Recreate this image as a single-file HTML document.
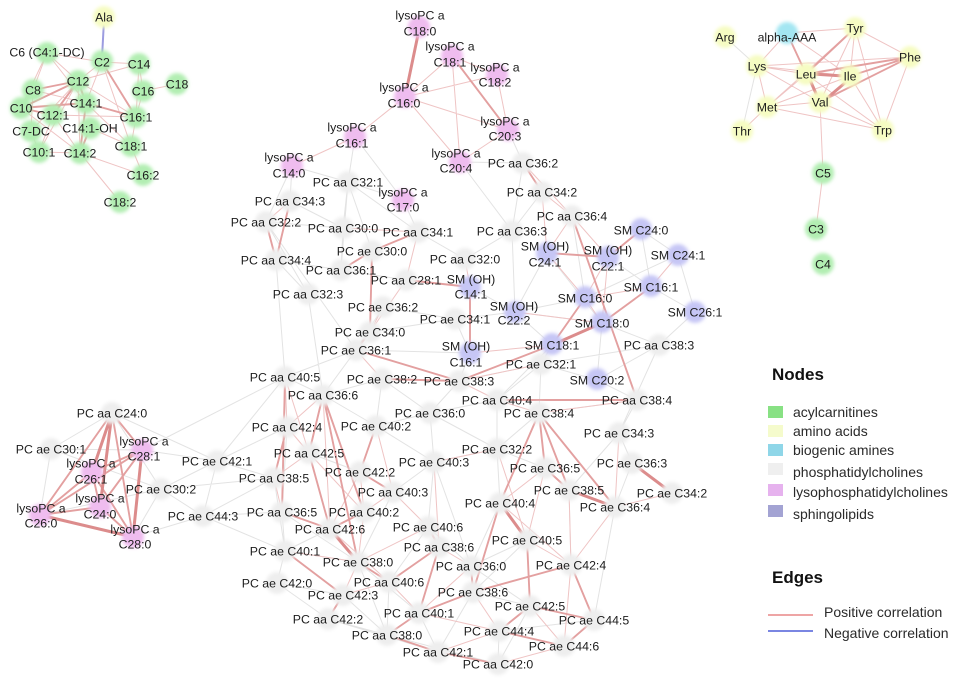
<!DOCTYPE html>
<html>
<head>
<meta charset="utf-8">
<style>
html,body{margin:0;padding:0;background:#fff;}
body{width:956px;height:679px;overflow:hidden;}
svg{display:block;}
.t{font-family:"Liberation Sans",Arial,sans-serif;font-size:12.3px;fill:#1c1c1c;text-anchor:middle;}
.lg{font-family:"Liberation Sans",Arial,sans-serif;font-size:14px;fill:#2a2a2a;}
.hd{font-family:"Liberation Sans",Arial,sans-serif;font-size:17px;font-weight:bold;fill:#111;}
</style>
</head>
<body>
<svg width="956" height="679" viewBox="0 0 956 679" xmlns="http://www.w3.org/2000/svg">
<defs>
<filter id="b" x="-50%" y="-50%" width="200%" height="200%"><feGaussianBlur stdDeviation="1.8"/></filter>
</defs>
<rect width="956" height="679" fill="#fff"/>

<!-- thin gray edges -->
<path fill="none" stroke="#e3e3e3" stroke-width="1" d="
M508 130L523 163M355 137L348 182M292 166L348 182M292 166L290 201M403 200L348 182M460 162L523 163M355 137L403 200M292 166L266 222M403 200L418 232M460 162L512 231
M725 37L757 66M757 66L742 131
M51 449L112 413M51 449L40 515M51 449L142 450M51 449L161 489M112 413L217 461M112 413L161 489M142 450L217 461M161 489L203 516M217 461L203 516M161 489L133 537M203 516L274 478M217 461L274 478M217 461L287 427M203 516L285 551M161 489L217 461M203 516L133 537M203 516L282 512M217 461L285 377
M348 182L343 228M348 182L418 232M348 182L372 251M348 182L341 270M290 201L343 228M266 222L343 228M266 222L308 294M266 222L356 350M276 260L341 270M276 260L285 377M308 294L323 395M343 228L341 270M418 232L465 259M465 259L512 231M512 231L515 312M523 163L512 231M542 192L512 231M572 216L585 298M547 253L515 312M547 253L602 323M608 257L651 287M641 230L678 255M641 230L651 287M678 255L695 312M678 255L585 298M651 287L695 312M585 298L515 312M602 323L659 345M602 323L597 380M602 323L515 312M552 345L515 312M552 345L541 364M552 345L497 400M515 312L470 287M515 312L455 319M470 353L455 319M470 353L459 381M470 353L356 350M406 280L341 270M383 307L455 319M383 307L356 350M370 332L455 319M356 350L285 377M356 350L323 395M382 379L323 395M382 379L430 413M382 379L376 426M459 381L430 413M459 381L541 364M541 364L497 400M541 364L659 345M541 364L597 380M541 364L539 413M659 345L597 380M659 345L619 433M597 380L637 400M497 400L430 413M497 400L497 449M637 400L619 433M637 400L539 413M619 433L632 463M619 433L569 490M632 463L615 507M430 413L376 426M430 413L434 462M430 413L497 449M539 413L497 449M497 449L545 468M497 449L434 462M434 462L376 426M434 462L393 492M434 462L471 566M285 377L323 395M285 377L287 427M323 395L376 426M287 427L282 512M309 453L360 472M274 478L285 551M393 492L358 562M282 512L285 551M282 512L358 562M330 529L285 551M428 527L389 582M428 527L471 566M527 540L471 566M527 540L473 592M500 503L471 566M569 490L571 565M615 507L594 620M285 551L358 562M285 551L277 583M277 583L343 595M277 583L328 619M358 562L419 613M358 562L387 635M389 582L343 595M389 582L387 635M343 595L387 635M328 619L387 635M419 613L438 652M471 566L530 606M473 592L530 606M473 592L438 652M530 606L498 664M499 631L498 664M499 631L594 620M328 619L438 652M387 635L498 664M434 462L428 527M497 449L500 503M659 345L695 312M276 260L308 294
M142 450L285 377M161 489L274 478M40 515L161 489"/>

<!-- thin pink edges -->
<path fill="none" stroke="#efc4c4" stroke-width="1" d="
M47 53L33 90M47 53L78 81M47 53L102 62M47 53L86 103M102 62L78 81M102 62L86 103M102 62L131 146M139 64L78 81M139 64L136 117M143 91L136 117M143 91L177 84M136 117L131 146M53 115L80 153M39 152L80 153M31 131L39 152M31 131L78 81M33 90L21 108M80 153L143 175M80 153L120 202M131 146L143 175M78 81L136 117M53 115L136 117M33 90L86 103M90 128L131 146M39 152L78 81M33 90L31 131M47 53L21 108M139 64L143 91M102 62L139 64M86 103L131 146M78 81L80 153M21 108L80 153M53 115L39 152
M452 56L405 97M452 56L497 75M452 56L460 162M405 97L508 130M405 97L460 162M405 97L497 75M405 97L355 137M497 75L508 130M508 130L460 162M355 137L292 166
M855 28L850 76M855 28L820 102M855 28L767 107M855 28L883 130M787 33L850 76M787 33L757 66M787 33L855 28M757 66L767 107M757 66L850 76M757 66L820 102M757 66L806 74M767 107L820 102M767 107L806 74M767 107L850 76M767 107L883 130M767 107L742 131M820 102L883 130M850 76L883 130M806 74L883 130M910 57L883 130M820 102L823 173M823 173L816 229M910 57L855 28M910 57L757 66
M290 201L266 222M343 228L418 232M418 232L406 280M465 259L470 287M572 216L547 253M572 216L608 257M542 192L572 216M542 192L547 253M523 163L572 216M547 253L585 298M608 257L585 298M608 257L602 323M678 255L651 287M651 287L585 298M585 298L602 323M602 323L515 312M552 345L470 353M406 280L370 332M383 307L370 332M370 332L356 350M356 350L382 379M459 381L497 400M459 381L541 364M497 400L539 413M637 400L539 413M619 433L615 507M672 493L615 507M497 449L434 462M500 503L545 468M569 490L571 565M615 507L571 565M285 377L287 427M323 395L287 427M287 427L309 453M309 453L274 478M309 453L364 512M274 478L282 512M360 472L364 512M360 472L330 529M393 492L364 512M393 492L428 527M364 512L358 562M330 529L389 582M428 527L358 562M527 540L571 565M500 503L571 565M285 551L358 562M343 595L358 562M389 582L419 613M419 613L499 631M471 566L419 613M473 592L499 631M530 606L564 646M499 631L438 652M571 565L564 646M498 664L564 646M419 613L387 635M439 547L471 566M389 582L343 595M434 462L439 547M545 468L527 540M376 426L393 492M323 395L330 529M285 377L309 453M497 449L527 540M539 413L545 468"/>

<!-- blue negative edge -->
<path fill="none" stroke="#9c9ce0" stroke-width="2" d="M104 20L102 58"/>

<!-- medium red edges -->
<path fill="none" stroke="#e3a0a0" stroke-width="1.9" d="
M33 90L78 81M86 103L136 117M21 108L78 81M78 81L86 103M86 103L80 153M21 108L86 103M78 81L53 115M102 62L136 117M90 128L80 153M21 108L53 115
M452 56L508 130
M855 28L806 74M910 57L850 76M910 57L820 102M787 33L806 74M910 57L806 74
M523 163L542 192M572 216L637 400M547 253L608 257M608 257L641 230M470 287L406 280M470 287L470 353M459 381L552 345M418 232L372 251M341 270L372 251M266 222L276 260M372 251L370 332M497 400L637 400M539 413L545 468M539 413L569 490M539 413L615 507M539 413L500 503M545 468L569 490M500 503L473 592M527 540L530 606M571 565L473 592M285 377L282 512M323 395L309 453M323 395L358 562M287 427L274 478M323 395L364 512M376 426L360 472M309 453L330 529M364 512L330 529M439 547L389 582M439 547L419 613M419 613L387 635M389 582L358 562M419 613L473 592M473 592L471 566M439 547L428 527M360 472L393 492M282 512L330 529M530 606L499 631M499 631L564 646M594 620L564 646M530 606L594 620M438 652L498 664M285 551L343 595M343 595L328 619M387 635L438 652M571 565L594 620M356 350L459 381M382 379L459 381M370 332L356 350M290 201L276 260M585 298L552 345M651 287L602 323
M112 413L40 515M112 413L92 472M112 413L100 507M112 413L133 537M112 413L142 450M40 515L92 472M40 515L100 507M40 515L142 450M92 472L142 450M92 472L133 537M100 507L133 537M100 507L142 450M142 450L133 537M92 472L100 507"/>

<!-- thick red edges -->
<path fill="none" stroke="#dc8c8c" stroke-width="3" stroke-linecap="round" d="
M420 25L405 97
M812 74L844 76M810 80L818 98M846 82L826 99
M552 345L602 323M569 490L615 507M632 463L672 493M500 503L527 540M358 562L330 529M40 515L133 537M112 413L92 472M112 413L100 507M142 450L133 537"/>

<!-- node blobs -->
<g filter="url(#b)">
<g fill="#eeeeee">
<circle cx="348" cy="182" r="11"/><circle cx="290" cy="201" r="11"/><circle cx="266" cy="222" r="11"/><circle cx="343" cy="228" r="11"/><circle cx="418" cy="232" r="11"/><circle cx="512" cy="231" r="11"/><circle cx="372" cy="251" r="11"/><circle cx="276" cy="260" r="11"/><circle cx="465" cy="259" r="11"/><circle cx="341" cy="270" r="11"/><circle cx="406" cy="280" r="11"/><circle cx="308" cy="294" r="11"/><circle cx="383" cy="307" r="11"/><circle cx="455" cy="319" r="11"/><circle cx="370" cy="332" r="11"/><circle cx="356" cy="350" r="11"/><circle cx="523" cy="163" r="11"/><circle cx="542" cy="192" r="11"/><circle cx="572" cy="216" r="11"/><circle cx="659" cy="345" r="11"/><circle cx="541" cy="364" r="11"/><circle cx="637" cy="400" r="11"/><circle cx="497" cy="400" r="11"/><circle cx="285" cy="377" r="11"/><circle cx="382" cy="379" r="11"/><circle cx="459" cy="381" r="11"/><circle cx="323" cy="395" r="11"/><circle cx="430" cy="413" r="11"/><circle cx="539" cy="413" r="11"/><circle cx="619" cy="433" r="11"/><circle cx="287" cy="427" r="11"/><circle cx="376" cy="426" r="11"/><circle cx="497" cy="449" r="11"/><circle cx="309" cy="453" r="11"/><circle cx="434" cy="462" r="11"/><circle cx="545" cy="468" r="11"/><circle cx="632" cy="463" r="11"/><circle cx="274" cy="478" r="11"/><circle cx="360" cy="472" r="11"/><circle cx="393" cy="492" r="11"/><circle cx="569" cy="490" r="11"/><circle cx="672" cy="493" r="11"/><circle cx="500" cy="503" r="11"/><circle cx="615" cy="507" r="11"/><circle cx="282" cy="512" r="11"/><circle cx="364" cy="512" r="11"/><circle cx="330" cy="529" r="11"/><circle cx="428" cy="527" r="11"/><circle cx="527" cy="540" r="11"/><circle cx="285" cy="551" r="11"/><circle cx="439" cy="547" r="11"/><circle cx="358" cy="562" r="11"/><circle cx="471" cy="566" r="11"/><circle cx="571" cy="565" r="11"/><circle cx="277" cy="583" r="11"/><circle cx="389" cy="582" r="11"/><circle cx="343" cy="595" r="11"/><circle cx="473" cy="592" r="11"/><circle cx="530" cy="606" r="11"/><circle cx="419" cy="613" r="11"/><circle cx="328" cy="619" r="11"/><circle cx="594" cy="620" r="11"/><circle cx="499" cy="631" r="11"/><circle cx="387" cy="635" r="11"/><circle cx="564" cy="646" r="11"/><circle cx="438" cy="652" r="11"/><circle cx="498" cy="664" r="11"/>
<circle cx="112" cy="413" r="11"/><circle cx="51" cy="449" r="11"/><circle cx="161" cy="489" r="11"/><circle cx="217" cy="461" r="11"/><circle cx="203" cy="516" r="11"/>
</g>
<g fill="#b2eeb2">
<circle cx="47" cy="53" r="11"/><circle cx="102" cy="61" r="11"/><circle cx="139" cy="64" r="11"/><circle cx="177" cy="84" r="11"/><circle cx="78" cy="81" r="11"/><circle cx="33" cy="90" r="11"/><circle cx="143" cy="91" r="11"/><circle cx="86" cy="103" r="11"/><circle cx="21" cy="108" r="11"/><circle cx="53" cy="115" r="11"/><circle cx="136" cy="117" r="11"/><circle cx="90" cy="128" r="11"/><circle cx="31" cy="131" r="11"/><circle cx="131" cy="146" r="11"/><circle cx="39" cy="152" r="11"/><circle cx="80" cy="153" r="11"/><circle cx="143" cy="175" r="11"/><circle cx="120" cy="202" r="11"/>
<circle cx="823" cy="173" r="11"/><circle cx="816" cy="229" r="11"/><circle cx="823" cy="264" r="11"/>
</g>
<g fill="#f6fcc2">
<circle cx="104" cy="17" r="11"/>
<circle cx="725" cy="37" r="11"/><circle cx="855" cy="28" r="11"/><circle cx="910" cy="57" r="11"/><circle cx="757" cy="66" r="11"/><circle cx="806" cy="74" r="11"/><circle cx="850" cy="76" r="11"/><circle cx="767" cy="107" r="11"/><circle cx="820" cy="102" r="11"/><circle cx="742" cy="131" r="11"/><circle cx="883" cy="130" r="11"/>
</g>
<circle cx="787" cy="33" r="11" fill="#a3e6f2"/>
<g fill="#efbcef">
<circle cx="419" cy="27" r="11"/><circle cx="452" cy="56" r="11"/><circle cx="497" cy="75" r="11"/><circle cx="405" cy="97" r="11"/><circle cx="508" cy="130" r="11"/><circle cx="355" cy="137" r="11"/><circle cx="460" cy="162" r="11"/><circle cx="292" cy="166" r="11"/><circle cx="403" cy="200" r="11"/>
<circle cx="142" cy="450" r="11"/><circle cx="92" cy="472" r="11"/><circle cx="100" cy="507" r="11"/><circle cx="40" cy="515" r="11"/><circle cx="133" cy="537" r="11"/>
</g>
<g fill="#c6c6f5">
<circle cx="470" cy="287" r="11"/><circle cx="515" cy="312" r="11"/><circle cx="470" cy="353" r="11"/><circle cx="547" cy="253" r="11"/><circle cx="608" cy="257" r="11"/><circle cx="641" cy="229" r="11"/><circle cx="678" cy="255" r="11"/><circle cx="651" cy="286" r="11"/><circle cx="585" cy="297" r="11"/><circle cx="695" cy="312" r="11"/><circle cx="602" cy="322" r="11"/><circle cx="552" cy="344" r="11"/><circle cx="597" cy="379" r="11"/>
</g>
</g>

<!-- labels -->
<g class="t" transform="translate(0,4.3)">
<text x="104" y="17">Ala</text>
<text x="47" y="52">C6 (C4:1-DC)</text>
<text x="102" y="62">C2</text>
<text x="139" y="64">C14</text>
<text x="177" y="84">C18</text>
<text x="78" y="81">C12</text>
<text x="33" y="90">C8</text>
<text x="143" y="91">C16</text>
<text x="86" y="103">C14:1</text>
<text x="21" y="108">C10</text>
<text x="53" y="115">C12:1</text>
<text x="136" y="117">C16:1</text>
<text x="90" y="128">C14:1-OH</text>
<text x="31" y="131">C7-DC</text>
<text x="131" y="146">C18:1</text>
<text x="39" y="152">C10:1</text>
<text x="80" y="153">C14:2</text>
<text x="143" y="175">C16:2</text>
<text x="120" y="202">C18:2</text>

<text x="420" y="15">lysoPC a</text><text x="420" y="31">C18:0</text>
<text x="450" y="46">lysoPC a</text><text x="450" y="62">C18:1</text>
<text x="495" y="67">lysoPC a</text><text x="495" y="82">C18:2</text>
<text x="404" y="87">lysoPC a</text><text x="404" y="103">C16:0</text>
<text x="505" y="121">lysoPC a</text><text x="505" y="136">C20:3</text>
<text x="352" y="127">lysoPC a</text><text x="352" y="143">C16:1</text>
<text x="456" y="153">lysoPC a</text><text x="456" y="168">C20:4</text>
<text x="289" y="157">lysoPC a</text><text x="289" y="173">C14:0</text>
<text x="403" y="192">lysoPC a</text><text x="403" y="207">C17:0</text>

<text x="725" y="37">Arg</text>
<text x="787" y="37">alpha-AAA</text>
<text x="855" y="28">Tyr</text>
<text x="910" y="57">Phe</text>
<text x="757" y="66">Lys</text>
<text x="806" y="74">Leu</text>
<text x="850" y="76">Ile</text>
<text x="767" y="107">Met</text>
<text x="820" y="102">Val</text>
<text x="742" y="131">Thr</text>
<text x="883" y="130">Trp</text>
<text x="823" y="173">C5</text>
<text x="816" y="229">C3</text>
<text x="823" y="264">C4</text>

<text x="471" y="279">SM (OH)</text><text x="471" y="294">C14:1</text>
<text x="514" y="306">SM (OH)</text><text x="514" y="320">C22:2</text>
<text x="466" y="346">SM (OH)</text><text x="466" y="362">C16:1</text>
<text x="545" y="246">SM (OH)</text><text x="545" y="262">C24:1</text>
<text x="608" y="250">SM (OH)</text><text x="608" y="266">C22:1</text>
<text x="641" y="230">SM C24:0</text>
<text x="678" y="255">SM C24:1</text>
<text x="651" y="287">SM C16:1</text>
<text x="585" y="298">SM C16:0</text>
<text x="695" y="312">SM C26:1</text>
<text x="602" y="323">SM C18:0</text>
<text x="552" y="345">SM C18:1</text>
<text x="597" y="380">SM C20:2</text>

<text x="144" y="441">lysoPC a</text><text x="144" y="456">C28:1</text>
<text x="91" y="463">lysoPC a</text><text x="91" y="479">C26:1</text>
<text x="100" y="498">lysoPC a</text><text x="100" y="514">C24:0</text>
<text x="41" y="508">lysoPC a</text><text x="41" y="523">C26:0</text>
<text x="135" y="529">lysoPC a</text><text x="135" y="544">C28:0</text>
<text x="112" y="413">PC aa C24:0</text>
<text x="51" y="449">PC ae C30:1</text>
<text x="217" y="461">PC ae C42:1</text>
<text x="161" y="489">PC ae C30:2</text>
<text x="203" y="516">PC ae C44:3</text>

<text x="348" y="182">PC aa C32:1</text>
<text x="290" y="201">PC aa C34:3</text>
<text x="266" y="222">PC aa C32:2</text>
<text x="343" y="228">PC aa C30:0</text>
<text x="418" y="232">PC aa C34:1</text>
<text x="512" y="231">PC aa C36:3</text>
<text x="372" y="251">PC ae C30:0</text>
<text x="276" y="260">PC aa C34:4</text>
<text x="465" y="259">PC aa C32:0</text>
<text x="341" y="270">PC aa C36:1</text>
<text x="406" y="280">PC aa C28:1</text>
<text x="308" y="294">PC aa C32:3</text>
<text x="383" y="307">PC ae C36:2</text>
<text x="455" y="319">PC ae C34:1</text>
<text x="370" y="332">PC ae C34:0</text>
<text x="356" y="350">PC ae C36:1</text>
<text x="523" y="163">PC aa C36:2</text>
<text x="542" y="192">PC aa C34:2</text>
<text x="572" y="216">PC aa C36:4</text>
<text x="659" y="345">PC aa C38:3</text>
<text x="541" y="364">PC ae C32:1</text>
<text x="637" y="400">PC aa C38:4</text>
<text x="497" y="400">PC aa C40:4</text>
<text x="285" y="377">PC aa C40:5</text>
<text x="382" y="379">PC ae C38:2</text>
<text x="459" y="381">PC ae C38:3</text>
<text x="323" y="395">PC aa C36:6</text>
<text x="430" y="413">PC ae C36:0</text>
<text x="539" y="413">PC ae C38:4</text>
<text x="619" y="433">PC ae C34:3</text>
<text x="287" y="427">PC aa C42:4</text>
<text x="376" y="426">PC ae C40:2</text>
<text x="497" y="449">PC ae C32:2</text>
<text x="309" y="453">PC aa C42:5</text>
<text x="434" y="462">PC ae C40:3</text>
<text x="545" y="468">PC ae C36:5</text>
<text x="632" y="463">PC ae C36:3</text>
<text x="274" y="478">PC aa C38:5</text>
<text x="360" y="472">PC ae C42:2</text>
<text x="393" y="492">PC aa C40:3</text>
<text x="569" y="490">PC ae C38:5</text>
<text x="672" y="493">PC ae C34:2</text>
<text x="500" y="503">PC ae C40:4</text>
<text x="615" y="507">PC ae C36:4</text>
<text x="282" y="512">PC aa C36:5</text>
<text x="364" y="512">PC aa C40:2</text>
<text x="330" y="529">PC aa C42:6</text>
<text x="428" y="527">PC ae C40:6</text>
<text x="527" y="540">PC ae C40:5</text>
<text x="285" y="551">PC ae C40:1</text>
<text x="439" y="547">PC aa C38:6</text>
<text x="358" y="562">PC ae C38:0</text>
<text x="471" y="566">PC aa C36:0</text>
<text x="571" y="565">PC ae C42:4</text>
<text x="277" y="583">PC ae C42:0</text>
<text x="389" y="582">PC aa C40:6</text>
<text x="343" y="595">PC ae C42:3</text>
<text x="473" y="592">PC ae C38:6</text>
<text x="530" y="606">PC ae C42:5</text>
<text x="419" y="613">PC aa C40:1</text>
<text x="328" y="619">PC aa C42:2</text>
<text x="594" y="620">PC ae C44:5</text>
<text x="499" y="631">PC ae C44:4</text>
<text x="387" y="635">PC aa C38:0</text>
<text x="564" y="646">PC ae C44:6</text>
<text x="438" y="652">PC aa C42:1</text>
<text x="498" y="664">PC aa C42:0</text>
</g>

<!-- legend -->
<text class="hd" x="772" y="380">Nodes</text>
<rect x="768" y="406" width="15" height="12" fill="#88e184"/>
<rect x="768" y="425" width="15" height="12" fill="#f5fbcc"/>
<rect x="768" y="444" width="15" height="12" fill="#8fd6e8"/>
<rect x="768" y="463" width="15" height="12" fill="#efefef"/>
<rect x="768" y="484" width="15" height="12" fill="#e6b2ee"/>
<rect x="768" y="505" width="15" height="12" fill="#a3a3d3"/>
<text class="lg" x="793" y="417">acylcarnitines</text>
<text class="lg" x="793" y="436">amino acids</text>
<text class="lg" x="793" y="455">biogenic amines</text>
<text class="lg" x="793" y="477">phosphatidylcholines</text>
<text class="lg" x="793" y="497">lysophosphatidylcholines</text>
<text class="lg" x="793" y="519">sphingolipids</text>

<text class="hd" x="772" y="583">Edges</text>
<line x1="768" y1="615" x2="813" y2="615" stroke="#e98787" stroke-width="1.5"/>
<line x1="768" y1="631" x2="813" y2="631" stroke="#4f5fd8" stroke-width="1.5"/>
<text class="lg" x="824" y="617">Positive correlation</text>
<text class="lg" x="824" y="638">Negative correlation</text>
</svg>
</body>
</html>
